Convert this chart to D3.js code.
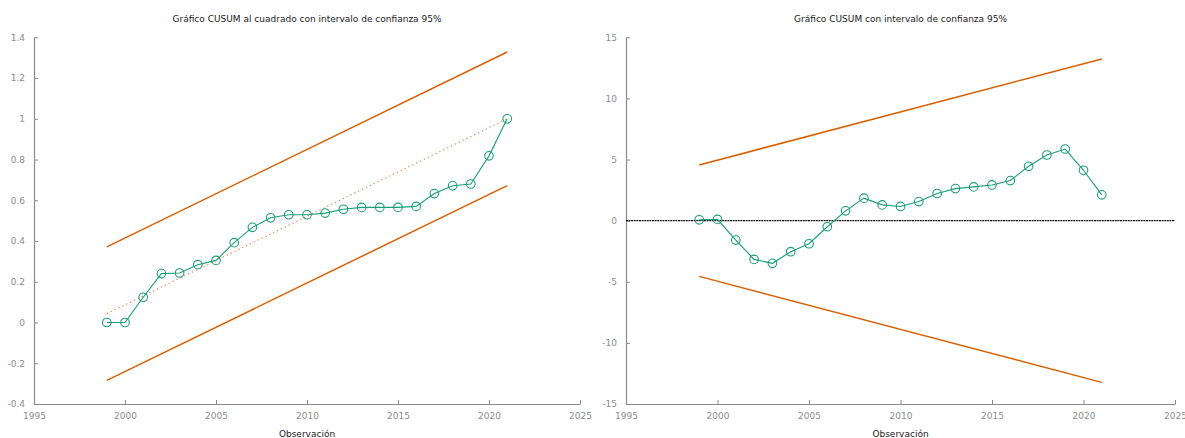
<!DOCTYPE html>
<html>
<head>
<meta charset="utf-8">
<script src="https://cdn.jsdelivr.net/npm/d3@7"></script>
<style>
  html, body { margin: 0; padding: 0; background: #fff; }
  svg { display: block; font-family: "DejaVu Sans", sans-serif; }
</style>
</head>
<body>
<svg id="chart" width="1185" height="438"></svg>
<script>
// Years of observation
const years = [1999, 2000, 2001, 2002, 2003, 2004, 2005, 2006, 2007, 2008, 2009, 2010,
               2011, 2012, 2013, 2014, 2015, 2016, 2017, 2018, 2019, 2020, 2021];

// CUSUM of squares statistic
const cusumsq = [0, 0, 0.124, 0.240, 0.243, 0.284, 0.305, 0.392, 0.467, 0.514, 0.529, 0.529,
                 0.537, 0.556, 0.565, 0.565, 0.565, 0.570, 0.633, 0.671, 0.680, 0.818, 1.0];

// Expected path and 95% band of the CUSUM of squares (endpoints)
const sqLineYears = [1999, 2021];
const sqExpected = [0.0435, 1.0];
const sqUpper = [0.371, 1.328];
const sqLower = [-0.284, 0.672];

// CUSUM statistic
const cusum = [0.07, 0.10, -1.59, -3.17, -3.49, -2.54, -1.89, -0.50, 0.80, 1.84, 1.29, 1.16,
               1.56, 2.22, 2.62, 2.76, 2.92, 3.28, 4.45, 5.37, 5.86, 4.12, 2.11];

// 95% band of the CUSUM (endpoints)
const cuLineYears = [1999, 2021];
const cuUpper = [4.56, 13.23];
const cuLower = [-4.56, -13.23];

// Axis ticks
const xTicks = [1995, 2000, 2005, 2010, 2015, 2020, 2025];
const sqYTicks = [-0.4, -0.2, 0, 0.2, 0.4, 0.6, 0.8, 1, 1.2, 1.4];
const cuYTicks = [-15, -10, -5, 0, 5, 10, 15];

const titles = ["Gráfico CUSUM al cuadrado con intervalo de confianza 95%",
                "Gráfico CUSUM con intervalo de confianza 95%"];
const xLabel = "Observación";

const green = "#1b9e77";
const orange = "#d95f02";
const axisGray = "#8a8a8a";
const tickText = "#8c8c8c";

const svg = d3.select("#chart");

function panel(opts) {
  const g = svg.append("g");
  const x = d3.scaleLinear().domain([1995, 2025]).range([opts.left, opts.right]);
  const y = d3.scaleLinear().domain(opts.yDomain).range([404, 37.3]);

  // bottom axis with inward ticks
  const xAxis = g.append("g").attr("transform", "translate(0,404)")
    .call(d3.axisBottom(x).tickValues(xTicks).tickFormat(d3.format("d")).tickSizeInner(-4).tickSizeOuter(0).tickPadding(9));
  // left axis with inward ticks
  const yAxis = g.append("g").attr("transform", `translate(${opts.left},0)`)
    .call(d3.axisLeft(y).tickValues(opts.yTicks).tickFormat(d => String(d).replace("−", "-")).tickSizeInner(-4).tickSizeOuter(0).tickPadding(9));

  [xAxis, yAxis].forEach(a => {
    a.select(".domain").attr("stroke", axisGray).attr("stroke-width", 1.2);
    a.selectAll(".tick line").attr("stroke", axisGray).attr("stroke-width", 1);
    a.selectAll(".tick text").attr("fill", tickText).attr("font-size", 9)
      .attr("font-family", "DejaVu Sans, sans-serif");
  });

  // title and x label
  g.append("text").attr("x", (opts.left + opts.right) / 2).attr("y", 22)
    .attr("text-anchor", "middle").attr("font-size", 9).attr("fill", "#222")
    .text(opts.title);
  g.append("text").attr("x", (opts.left + opts.right) / 2).attr("y", 437)
    .attr("text-anchor", "middle").attr("font-size", 9).attr("fill", "#222")
    .text(xLabel);

  return { g, x, y };
}

function drawSeries(p, vals, bandYears, upper, lower) {
  const line = d3.line().x((d, i) => p.x(d[0])).y(d => p.y(d[1]));
  [upper, lower].forEach(b => {
    p.g.append("path").datum(bandYears.map((yr, i) => [yr, b[i]]))
      .attr("d", line).attr("fill", "none").attr("stroke", orange).attr("stroke-width", 1.5);
  });
  const pts = years.map((yr, i) => [yr, vals[i]]);
  p.g.append("path").datum(pts).attr("d", line)
    .attr("fill", "none").attr("stroke", green).attr("stroke-width", 1.1);
  p.g.selectAll("circle.m").data(pts).enter().append("circle").attr("class", "m")
    .attr("cx", d => p.x(d[0])).attr("cy", d => p.y(d[1])).attr("r", 4.3)
    .attr("fill", "none").attr("stroke", green).attr("stroke-width", 1.1);
}

// Left panel: CUSUM of squares
const left = panel({ left: 34, right: 580, yDomain: [-0.4, 1.4], yTicks: sqYTicks, title: titles[0] });
left.g.append("path")
  .datum(sqLineYears.map((yr, i) => [yr, sqExpected[i]]))
  .attr("d", d3.line().x(d => left.x(d[0])).y(d => left.y(d[1])))
  .attr("fill", "none").attr("stroke", "#ee8a45").attr("stroke-width", 1.2)
  .attr("stroke-dasharray", "1.3,3");
drawSeries(left, cusumsq, sqLineYears, sqUpper, sqLower);

// Right panel: CUSUM
const right = panel({ left: 626, right: 1175, yDomain: [-15, 15], yTicks: cuYTicks, title: titles[1] });
right.g.append("line")
  .attr("x1", right.x(1995)).attr("x2", right.x(2025))
  .attr("y1", right.y(0)).attr("y2", right.y(0))
  .attr("stroke", "#111").attr("stroke-width", 1.2).attr("stroke-dasharray", "2,0.6");
drawSeries(right, cusum, cuLineYears, cuUpper, cuLower);
</script>
</body>
</html>
